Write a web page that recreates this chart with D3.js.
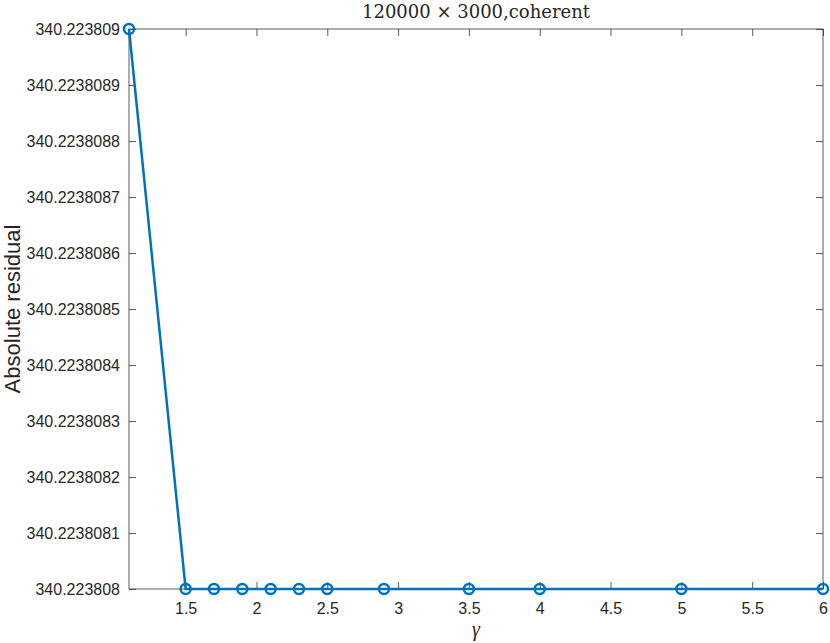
<!DOCTYPE html>
<html>
<head>
<meta charset="utf-8">
<script src="https://cdn.jsdelivr.net/npm/d3@7"></script>
<style>
  body { margin: 0; background: #fff; }
  text { fill: #262626; }
</style>
</head>
<body>
<div id="chart"></div>
<script>
// data
var gammaVals = [1.1, 1.5, 1.7, 1.9, 2.1, 2.3, 2.5, 2.9, 3.5, 4, 5, 6];
var residVals = [340.223809, 340.223808, 340.223808, 340.223808, 340.223808, 340.223808,
                 340.223808, 340.223808, 340.223808, 340.223808, 340.223808, 340.223808];
var xTicks = [1.5, 2, 2.5, 3, 3.5, 4, 4.5, 5, 5.5, 6];
var yTicks = [340.223808, 340.2238081, 340.2238082, 340.2238083, 340.2238084,
              340.2238085, 340.2238086, 340.2238087, 340.2238088, 340.2238089, 340.223809];
var yTickLabels = ["340.223808", "340.2238081", "340.2238082", "340.2238083", "340.2238084",
                   "340.2238085", "340.2238086", "340.2238087", "340.2238088", "340.2238089", "340.223809"];

var W = 830, H = 643;
var margin = {left: 129, right: 7, top: 29, bottom: 54};

var svg = d3.select("#chart").append("svg")
    .attr("width", W)
    .attr("height", H);

var x = d3.scaleLinear().domain([1.1, 6]).range([margin.left, W - margin.right]);
var y = d3.scaleLinear().domain([340.223808, 340.223809]).range([H - margin.bottom, margin.top]);

var axisColor = "#262626";
var tickLen = 7;

// box
svg.append("rect")
  .attr("x", x.range()[0])
  .attr("y", y.range()[1])
  .attr("width", x.range()[1] - x.range()[0])
  .attr("height", y.range()[0] - y.range()[1])
  .attr("fill", "none")
  .attr("stroke", axisColor)
  .attr("stroke-opacity", 0.75)
  .attr("stroke-width", 1);

var font = "'Liberation Sans', Arial, Helvetica, sans-serif";

// x axis ticks (bottom and top, inward)
var xAxisB = d3.axisBottom(x).tickValues(xTicks).tickSize(-tickLen).tickPadding(14)
  .tickFormat(function(d) { return d3.format("")(d); });
var gxb = svg.append("g").attr("transform", "translate(0," + y.range()[0] + ")").call(xAxisB);
var gxt = svg.append("g").attr("transform", "translate(0," + y.range()[1] + ")")
  .call(d3.axisTop(x).tickValues(xTicks).tickSize(-tickLen).tickFormat(""));

// y axis ticks (left and right, inward)
var gyl = svg.append("g").attr("transform", "translate(" + x.range()[0] + ",0)")
  .call(d3.axisLeft(y).tickValues(yTicks).tickSize(-tickLen).tickPadding(9)
    .tickFormat(function(d, i) { return yTickLabels[i]; }));
var gyr = svg.append("g").attr("transform", "translate(" + x.range()[1] + ",0)")
  .call(d3.axisRight(y).tickValues(yTicks).tickSize(-tickLen).tickFormat(""));

[gxb, gxt, gyl, gyr].forEach(function(g) {
  g.select(".domain").remove();
  g.selectAll(".tick line").attr("stroke", axisColor).attr("stroke-opacity", 0.75).attr("stroke-width", 1);
  g.selectAll(".tick text").attr("fill", axisColor)
    .style("font-family", font).style("font-size", "16px");
});

// line + markers
var line = d3.line()
  .x(function(d, i) { return x(gammaVals[i]); })
  .y(function(d) { return y(d); });

svg.append("path")
  .datum(residVals)
  .attr("d", line)
  .attr("fill", "none")
  .attr("stroke", "#0072BD")
  .attr("stroke-width", 2.5);

svg.append("g").selectAll("circle")
  .data(residVals)
  .enter().append("circle")
  .attr("cx", function(d, i) { return x(gammaVals[i]); })
  .attr("cy", function(d) { return y(d); })
  .attr("r", 5)
  .attr("fill", "none")
  .attr("stroke", "#0072BD")
  .attr("stroke-width", 2.5);

// title
svg.append("text")
  .attr("x", (x.range()[0] + x.range()[1]) / 2)
  .attr("y", 18)
  .attr("text-anchor", "middle")
  .style("font-family", "'DejaVu Serif', 'Liberation Serif', serif")
  .style("font-size", "18px")
  .text("120000 \u00D7 3000,coherent");

// x label
svg.append("text")
  .attr("x", (x.range()[0] + x.range()[1]) / 2)
  .attr("y", 636)
  .attr("text-anchor", "middle")
  .style("font-family", "'Liberation Serif', 'DejaVu Serif', serif")
  .style("font-style", "italic")
  .style("font-size", "20px")
  .text("\u03B3");

// y label
svg.append("text")
  .attr("transform", "translate(20," + (y.range()[0] + y.range()[1]) / 2 + ") rotate(-90)")
  .attr("text-anchor", "middle")
  .style("font-family", font)
  .style("font-size", "22px")
  .text("Absolute residual");
</script>
</body>
</html>
